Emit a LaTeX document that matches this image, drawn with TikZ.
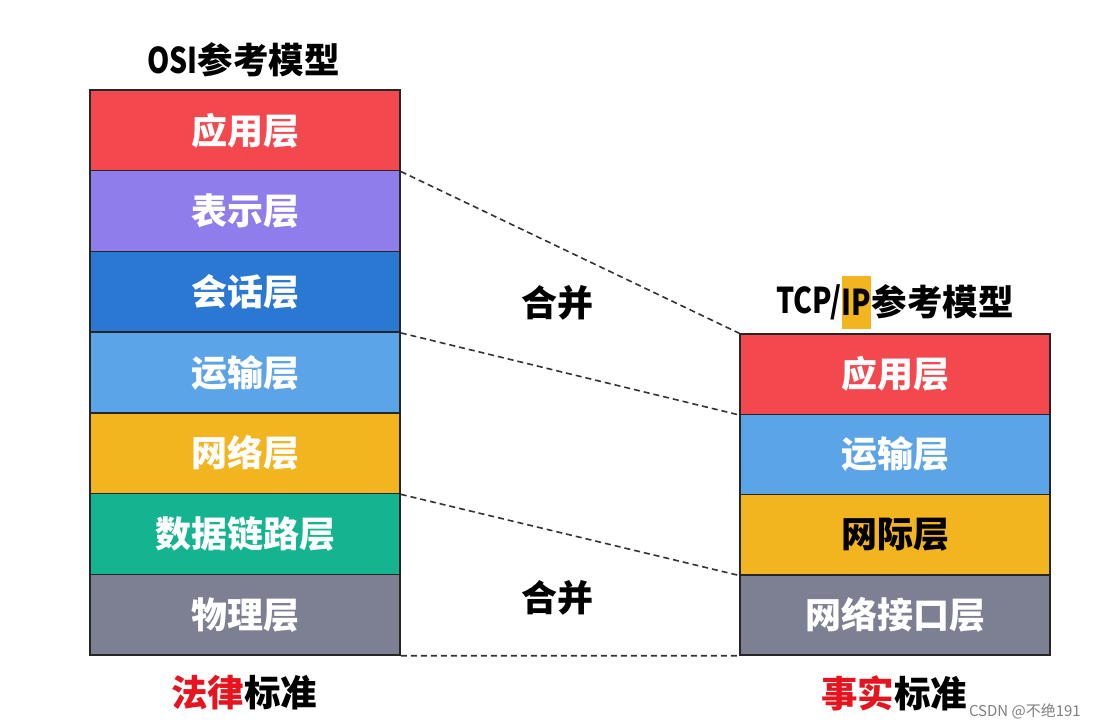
\documentclass[tikz,border=0pt]{standalone}
\usepackage{fontspec}
\usepackage{graphicx}
\usetikzlibrary{calc}
\setmainfont{Noto Sans CJK SC}
\newfontfamily\cjk{Noto Sans CJK SC}
\definecolor{cred}{HTML}{F4484F}
\definecolor{cpurple}{HTML}{8E7DEA}
\definecolor{cblue}{HTML}{2B78D2}
\definecolor{clblue}{HTML}{5CA4E8}
\definecolor{cyellow}{HTML}{F2B41F}
\definecolor{cteal}{HTML}{13B48F}
\definecolor{cgray}{HTML}{7C8092}
\definecolor{tred}{HTML}{E5141E}
\definecolor{hl}{HTML}{F2B41F}
\newcommand{\narrow}[1]{\scalebox{0.8}[1]{#1}}
\tikzset{
  layer/.style={draw=black!85, line width=1.5pt, minimum width=310pt, inner sep=0pt,
    font=\cjk\bfseries\fontsize{36}{36}\selectfont, text=white},
  llayer/.style={layer, minimum height=80.71pt},
  rlayer/.style={layer, minimum height=80.25pt},
  merge/.style={draw=black!80, line width=1.6pt, dash pattern=on 6pt off 4pt},
  title/.style={font=\cjk\bfseries\fontsize{35.5}{35.5}\selectfont, text=black, inner sep=0pt},
}
\begin{document}
\begin{tikzpicture}[x=1pt,y=-1pt]
\useasboundingbox[fill=white] (0,0) rectangle (1095,728);
% left stack
\node[llayer, fill=cred]    (L1) at (245,130.36) {应用层};
\node[llayer, fill=cpurple] (L2) at (245,211.07) {表示层};
\node[llayer, fill=cblue]   (L3) at (245,291.79) {会话层};
\node[llayer, fill=clblue]  (L4) at (245,372.50) {运输层};
\node[llayer, fill=cyellow] (L5) at (245,453.21) {网络层};
\node[llayer, fill=cteal]   (L6) at (245,533.93) {数据链路层};
\node[llayer, fill=cgray]   (L7) at (245,614.64) {物理层};
% right stack
\node[rlayer, fill=cred]    (R1) at (895,374.13) {应用层};
\node[rlayer, fill=clblue]  (R2) at (895,454.38) {运输层};
\node[rlayer, fill=cyellow, text=black] (R3) at (895,534.63) {网际层};
\node[rlayer, fill=cgray]   (R4) at (895,614.88) {网络接口层};
% titles
\node[title] (T1) at (243.5,60) {\narrow{OSI}参考模型};
\node[title, anchor=west] (T2a) at (776,302) {\narrow{TCP/}};
\node[title, anchor=west, fill=hl, minimum height=53pt] (T2b) at (T2a.east) {\narrow{IP}};
\node[title, anchor=west] (T2c) at (T2b.east) {参考模型};
% merge labels
\node[title, font=\cjk\bfseries\fontsize{36}{36}\selectfont] (M1) at (557,303) {合并};
\node[title, font=\cjk\bfseries\fontsize{36}{36}\selectfont] (M2) at (557,598) {合并};
% dashed connectors
\draw[merge] (L1.south east) -- (R1.north west);
\draw[merge] (L3.south east) -- (R1.south west);
\draw[merge] (L5.south east) -- (R3.south west);
\draw[merge] (L7.south east) -- (R4.south west);
% bottom labels
\node[title, font=\cjk\bfseries\fontsize{36.5}{36.5}\selectfont] (B1) at (244,693) {\textcolor{tred}{法律}标准};
\node[title, font=\cjk\bfseries\fontsize{36.5}{36.5}\selectfont] (B2) at (894,693) {\textcolor{tred}{事实}标准};
% watermark
\node[font=\cjk\fontsize{15}{15}\selectfont, text=black!50, anchor=east, inner sep=0pt] (W) at (1081,711) {CSDN @不绝191};
\end{tikzpicture}
\end{document}
